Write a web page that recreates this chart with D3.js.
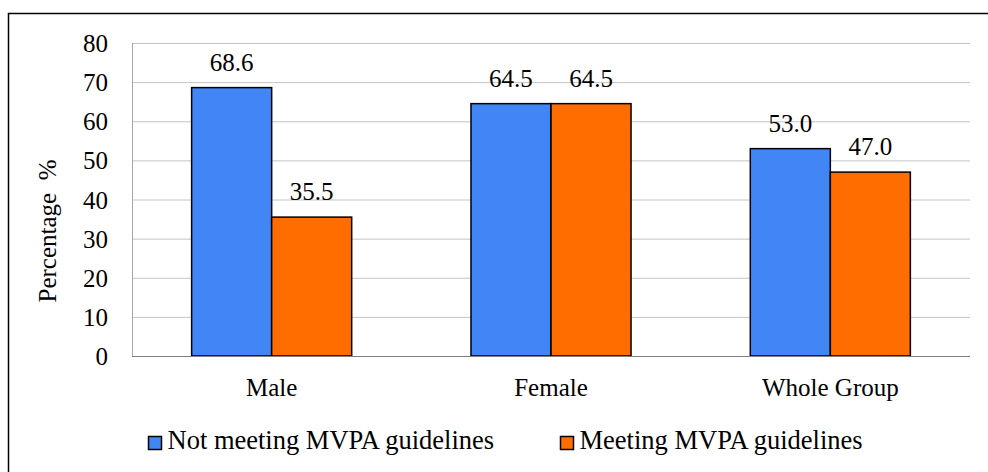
<!DOCTYPE html>
<html lang="en">
<head>
    <meta charset="UTF-8">
    <title>MVPA guidelines</title>
    <script src="https://d3js.org/d3.v7.min.js"></script>
    <style>
        body { margin: 0; background: #fff; }
    </style>
</head>
<body>
    <svg id="chart" width="988" height="472" font-family="'Liberation Serif', 'Times New Roman', Tinos, 'DejaVu Serif', serif"></svg>
    <script>
        const categories = ["Male", "Female", "Whole Group"];
        const seriesNames = ["Not meeting MVPA guidelines", "Meeting MVPA guidelines"];
        const notMeeting = [68.6, 64.5, 53.0];
        const meeting = [35.5, 64.5, 47.0];
        const yTicks = [0, 10, 20, 30, 40, 50, 60, 70, 80];
        const colors = ["#4285F4", "#FF6D00"];

        const svg = d3.select("#chart");
        const plotLeft = 132, plotRight = 970, plotTop = 43, plotBottom = 356;
        const fontSize = 25;

        // outer frame
        svg.append("rect")
            .attr("x", 8.5).attr("y", 13.5)
            .attr("width", 990).attr("height", 480)
            .attr("fill", "none").attr("stroke", "#000").attr("stroke-width", 1.5);

        const x = d3.scaleBand().domain(categories).range([plotLeft, plotRight])
            .paddingInner(0.427).paddingOuter(0.2135);
        const x1 = d3.scaleBand().domain([0, 1]).range([0, x.bandwidth()]);
        const y = d3.scaleLinear().domain([0, 80]).range([plotBottom, plotTop]);

        // gridlines
        svg.append("g").selectAll("line")
            .data(yTicks.filter(d => d > 0))
            .enter().append("line")
            .attr("x1", plotLeft).attr("x2", plotRight)
            .attr("y1", d => y(d) + 0.5).attr("y2", d => y(d) + 0.5)
            .attr("stroke", "#c4c4c4").attr("stroke-width", 1);

        // left axis line
        svg.append("line")
            .attr("x1", plotLeft + 0.5).attr("x2", plotLeft + 0.5)
            .attr("y1", y(80)).attr("y2", y(0))
            .attr("stroke", "#a6a6a6");

        // y tick labels
        svg.append("g").selectAll("text")
            .data(yTicks)
            .enter().append("text")
            .attr("x", 108).attr("y", d => y(d) + 9)
            .attr("text-anchor", "end")
            .attr("font-size", fontSize)
            .text(d => d);

        const rows = categories.map((c, i) => ({ cat: c, vals: [notMeeting[i], meeting[i]] }));

        const groups = svg.append("g").selectAll("g")
            .data(rows)
            .enter().append("g")
            .attr("transform", d => `translate(${x(d.cat)},0)`);

        groups.selectAll("rect")
            .data(d => d.vals.map((v, j) => ({ v, j })))
            .enter().append("rect")
            .attr("x", d => x1(d.j))
            .attr("y", d => y(d.v))
            .attr("width", x1.bandwidth())
            .attr("height", d => y(0) - y(d.v))
            .attr("fill", d => colors[d.j])
            .attr("stroke", "#000").attr("stroke-width", 1.5);

        groups.selectAll("text.val")
            .data(d => d.vals.map((v, j) => ({ v, j })))
            .enter().append("text")
            .attr("class", "val")
            .attr("x", d => x1(d.j) + x1.bandwidth() / 2)
            .attr("y", d => y(d.v) - 17)
            .attr("text-anchor", "middle")
            .attr("font-size", fontSize)
            .text(d => d.v.toFixed(1));

        // baseline
        svg.append("line")
            .attr("x1", plotLeft).attr("x2", plotRight)
            .attr("y1", y(0) + 0.5).attr("y2", y(0) + 0.5)
            .attr("stroke", "#7f7f7f").attr("stroke-width", 1.2);

        // category labels
        svg.append("g").selectAll("text")
            .data(categories)
            .enter().append("text")
            .attr("x", d => x(d) + x.bandwidth() / 2)
            .attr("y", 396)
            .attr("text-anchor", "middle")
            .attr("font-size", fontSize)
            .text(d => d);

        // y-axis title (two spaces before %, as in the original)
        svg.append("text")
            .attr("transform", "translate(56,231) rotate(-90)")
            .attr("text-anchor", "middle")
            .attr("font-size", fontSize)
            .style("white-space", "pre")
            .text("Percentage  %");

        // legend
        const legendX = [148, 560];
        const legend = svg.append("g").selectAll("g")
            .data(seriesNames)
            .enter().append("g")
            .attr("transform", (d, i) => `translate(${legendX[i] + 0.5},436.5)`);
        legend.append("rect")
            .attr("width", 13).attr("height", 13)
            .attr("fill", (d, i) => colors[i])
            .attr("stroke", "#000").attr("stroke-width", 1.5);
        legend.append("text")
            .attr("x", 19).attr("y", 12.5)
            .attr("font-size", 26.5)
            .text(d => d);
    </script>
</body>
</html>
